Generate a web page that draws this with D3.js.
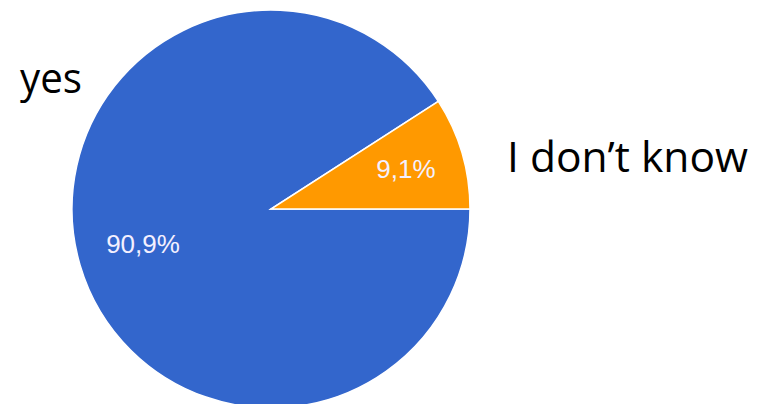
<!DOCTYPE html>
<html><head><meta charset="utf-8">
<script src="https://cdn.jsdelivr.net/npm/d3@7"></script>
<style>body{margin:0;background:#fff}svg{display:block}</style>
</head><body>
<svg id="c" width="757" height="404"></svg>
<script>
const categories = ["yes", "I don\u2019t know"];
const values = [90.9, 9.1];
const pctLabels = ["90,9%", "9,1%"];
const colors = ["#3366cc", "#ff9900"];

const svg = d3.select("#c");
const cx = 271, cy = 209, r = 199;
const g = svg.append("g").attr("transform", `translate(${cx},${cy})`);

const pie = d3.pie().sort(null).value(d => d)
  .startAngle(Math.PI / 2).endAngle(Math.PI / 2 + 2 * Math.PI);
const arcs = pie(values);
const arc = d3.arc().innerRadius(0).outerRadius(r);

g.selectAll("path").data(arcs).join("path")
  .attr("d", arc)
  .attr("fill", (d, i) => colors[i])
  .attr("stroke", "#fff").attr("stroke-width", 1.5);

// percentage labels
const lblArc = d3.arc().innerRadius(r * 0.68).outerRadius(r * 0.68);
const pctPos = [[-128, 44], [135, -31]];
g.selectAll("text.pct").data(arcs).join("text")
  .attr("class", "pct")
  .attr("x", (d, i) => pctPos[i][0])
  .attr("y", (d, i) => pctPos[i][1])
  .attr("text-anchor", "middle")
  .attr("font-family", "Liberation Sans, Arial, sans-serif")
  .attr("font-size", 26)
  .attr("fill", "#f4f0ff")
  .text((d, i) => pctLabels[i]);

// category labels
const catPos = [[20, 93, 62], [507, 172, 241]];
svg.selectAll("text.cat").data(categories).join("text")
  .attr("class", "cat")
  .attr("x", (d, i) => catPos[i][0])
  .attr("y", (d, i) => catPos[i][1])
  .attr("font-family", "Open Sans, sans-serif")
  .attr("font-size", 42)
  .attr("fill", "#000")
  .attr("textLength", (d, i) => catPos[i][2])
  .attr("lengthAdjust", "spacingAndGlyphs")
  .text(d => d);
</script>
</body></html>
